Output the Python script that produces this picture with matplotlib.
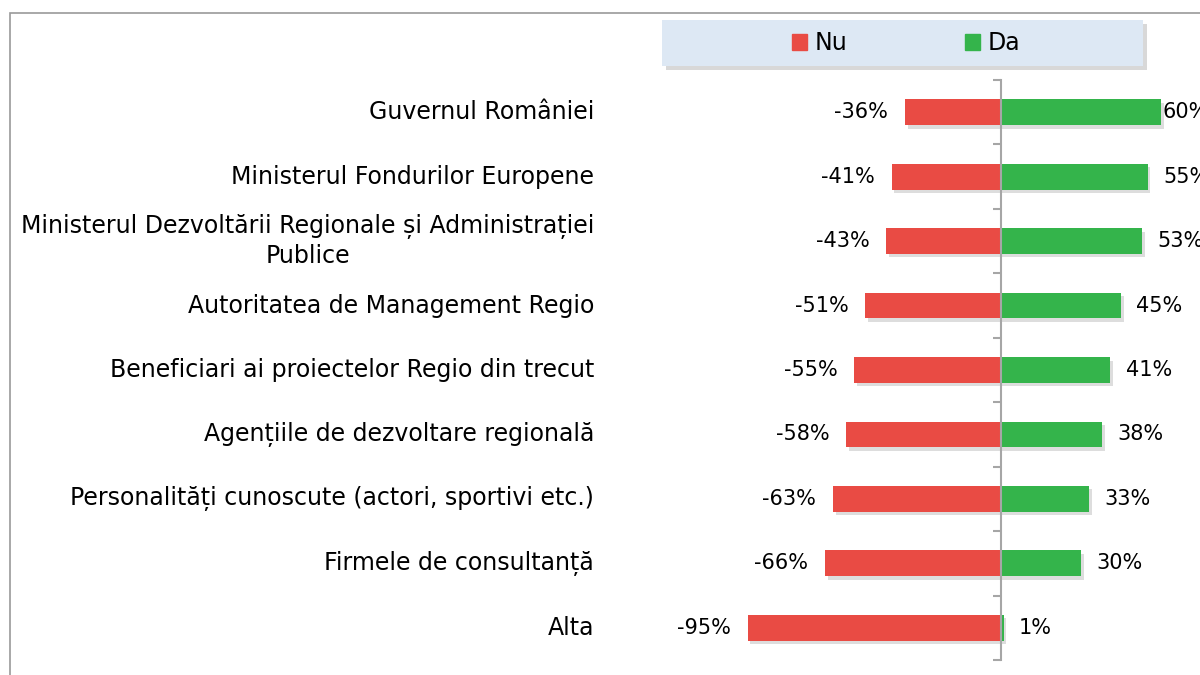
import matplotlib
matplotlib.use("Agg")
import matplotlib.pyplot as plt
import matplotlib.patheffects as pe
from matplotlib.patches import Rectangle, Patch

# date
categorii = [
    "Guvernul României",
    "Ministerul Fondurilor Europene",
    "Ministerul Dezvoltării Regionale și Administrației\nPublice",
    "Autoritatea de Management Regio",
    "Beneficiari ai proiectelor Regio din trecut",
    "Agențiile de dezvoltare regională",
    "Personalități cunoscute (actori, sportivi etc.)",
    "Firmele de consultanță",
    "Alta",
]
nu = [-36, -41, -43, -51, -55, -58, -63, -66, -95]
da = [60, 55, 53, 45, 41, 38, 33, 30, 1]

rosu = "#e94b44"
verde = "#34b44b"
gri = "#a6a6a6"

plt.rcParams['font.family'] = ['DejaVu Sans']

fig = plt.figure(figsize=(12, 6.75), dpi=100)
W, H = 1200, 675

# chenarul graficului
fig.patches.append(Rectangle((10 / W, -0.1), 1.2, (675 - 13) / H + 0.1,
                             transform=fig.transFigure, fill=False,
                             edgecolor="#9a9a9a", linewidth=1.2))

ax = fig.add_axes([609 / W, 15 / H, 592 / W, 580 / H])
ax.set_xlim(-147, 75)
ax.set_ylim(8.5, -0.5)

umbra = [pe.SimplePatchShadow(offset=(2, -2.5), shadow_rgbFace="#909090", alpha=0.3), pe.Normal()]
y = list(range(len(categorii)))
b1 = ax.barh(y, nu, height=0.4, color=rosu, zorder=2)
b2 = ax.barh(y, da, height=0.4, color=verde, zorder=2)
for b in list(b1) + list(b2):
    b.set_path_effects(umbra)

for i in y:
    ax.annotate(f"{nu[i]}%", (nu[i], i), xytext=(-12, 0), textcoords="offset points",
                ha="right", va="center", fontsize=15, color="black")
    pad = 1 if da[i] >= 60 else 11
    ax.annotate(f"{da[i]}%", (da[i], i), xytext=(pad, 0), textcoords="offset points",
                ha="left", va="center", fontsize=15, color="black",
                annotation_clip=False)
    ax.text(-0.025, i, categorii[i], transform=ax.get_yaxis_transform(),
            ha="right", va="center", fontsize=17, multialignment="center",
            linespacing=1.25)

for s in ["top", "right", "bottom"]:
    ax.spines[s].set_visible(False)
ax.spines["left"].set_position(("data", 0))
ax.spines["left"].set_color(gri)
ax.spines["left"].set_linewidth(1.5)
ax.set_xticks([])
ax.set_yticks([i - 0.5 for i in range(len(categorii) + 1)])
ax.set_yticklabels([])
ax.tick_params(axis="y", direction="out", length=6, width=1.5, color=gri)
ax.set_facecolor("none")

# legenda
box = Rectangle((662 / W, 1 - 66 / H), (1143 - 662) / W, 46 / H,
                transform=fig.transFigure, facecolor="#dde8f4", edgecolor="none")
box.set_path_effects([pe.SimplePatchShadow(offset=(3, -3), shadow_rgbFace="#909090", alpha=0.35), pe.Normal()])
fig.patches.append(box)
fig.legend(handles=[Patch(color=rosu, label="Nu"), Patch(color=verde, label="Da")],
           loc="center", bbox_to_anchor=(906 / W, 1 - 43 / H), ncol=2, frameon=False,
           fontsize=17, handlelength=0.65, handleheight=0.65, handletextpad=0.3,
           columnspacing=5.0)

fig.savefig("out.png", dpi=100)
